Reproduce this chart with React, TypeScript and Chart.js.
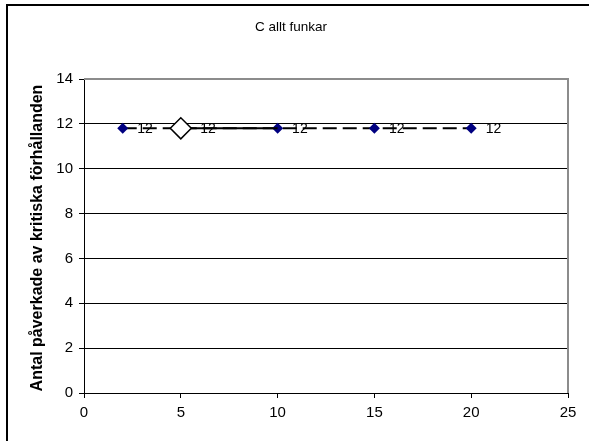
import React, { useEffect, useRef } from "react";
import { Chart, registerables } from "chart.js";

Chart.register(...registerables);

const titleText = "C allt funkar";
const yTitleText = "Antal påverkade av kritiska förhållanden";

// Dashed series (navy diamonds)
const dashedX = [2, 10, 15, 20];
const dashedY = [11.8, 11.8, 11.8, 11.8];
const dashedLabels = ["12", "12", "12", "12"];

// Solid series (white diamond)
const solidX = [5, 10];
const solidY = [11.8, 11.8];
const solidLabels = ["12", ""];

const xTicks = [0, 5, 10, 15, 20, 25];
const yTicks = [0, 2, 4, 6, 8, 10, 12, 14];

const FONT = "Arial, 'Liberation Sans', sans-serif";

export default function App() {
  const ref = useRef<HTMLCanvasElement | null>(null);

  useEffect(() => {
    if (!ref.current) return;

    const framePlugin = {
      id: "framePlugin",
      beforeDraw(chart: any) {
        const ctx = chart.ctx;
        ctx.save();
        ctx.fillStyle = "#ffffff";
        ctx.fillRect(0, 0, chart.width, chart.height);
        ctx.strokeStyle = "#000000";
        ctx.lineWidth = 2;
        ctx.strokeRect(7, 5, 700, 700);
        ctx.restore();
      },
      afterDraw(chart: any) {
        const ctx = chart.ctx;
        const a = chart.chartArea;
        ctx.save();
        ctx.strokeStyle = "#8c8c8c";
        ctx.lineWidth = 2;
        ctx.beginPath();
        ctx.moveTo(a.left, a.top);
        ctx.lineTo(a.right, a.top);
        ctx.lineTo(a.right, a.bottom);
        ctx.stroke();
        // Title
        ctx.fillStyle = "#000";
        ctx.font = `13.5px ${FONT}`;
        ctx.textAlign = "center";
        ctx.textBaseline = "middle";
        ctx.fillText(titleText, 291, 27);
        // Y title
        ctx.font = `bold 16px ${FONT}`;
        ctx.translate(38, (a.top + a.bottom) / 2 + 2);
        ctx.rotate(-Math.PI / 2);
        ctx.fillText(yTitleText, 0, 0);
        ctx.restore();
      },
    };

    const labelPlugin = {
      id: "labelPlugin",
      afterDatasetsDraw(chart: any) {
        const ctx = chart.ctx;
        ctx.save();
        ctx.fillStyle = "#000";
        ctx.font = `14px ${FONT}`;
        ctx.textAlign = "left";
        ctx.textBaseline = "middle";
        chart.data.datasets.forEach((ds: any, i: number) => {
          const meta = chart.getDatasetMeta(i);
          const labels: string[] = ds.dataLabels || [];
          meta.data.forEach((el: any, j: number) => {
            const t = labels[j];
            if (!t) return;
            const r = Array.isArray(ds.pointRadius) ? ds.pointRadius[j] : ds.pointRadius;
            ctx.fillText(t, el.x + r + 9, el.y + 1);
          });
        });
        ctx.restore();
      },
    };

    const chart = new Chart(ref.current, {
      type: "scatter",
      data: {
        datasets: [
          {
            label: "B",
            data: solidX.map((x, i) => ({ x, y: solidY[i] })),
            showLine: true,
            borderColor: "#000",
            borderWidth: 2,
            pointStyle: "rectRot",
            pointRadius: [10.5, 0],
            pointBackgroundColor: "#ffffff",
            pointBorderColor: "#000",
            pointBorderWidth: 1.5,
            order: 0,
            dataLabels: solidLabels,
          } as any,
          {
            label: "A",
            data: dashedX.map((x, i) => ({ x, y: dashedY[i] })),
            showLine: true,
            borderColor: "#000",
            borderWidth: 2,
            borderDash: [14, 6],
            pointStyle: "rectRot",
            pointRadius: 5.5,
            pointBackgroundColor: "#000080",
            pointBorderColor: "#000080",
            pointBorderWidth: 0,
            order: 1,
            dataLabels: dashedLabels,
          } as any,
        ],
      },
      options: {
        animation: false,
        responsive: false,
        events: [],
        layout: { padding: { top: 79, right: 21, left: 0, bottom: 0 } },
        plugins: {
          legend: { display: false },
          title: { display: false },
          tooltip: { enabled: false },
        },
        scales: {
          x: {
            type: "linear",
            min: 0,
            max: 25,
            afterFit: (s: any) => {
              s.height = 48;
            },
            afterBuildTicks: (s: any) => {
              s.ticks = xTicks.map((v) => ({ value: v }));
            },
            ticks: {
              color: "#000",
              font: { family: FONT, size: 15 },
              padding: 6,
              maxRotation: 0,
            },
            grid: {
              drawOnChartArea: false,
              drawTicks: true,
              tickLength: 5,
              tickColor: "#000",
            },
            border: { display: true, color: "#000", width: 1 },
          },
          y: {
            type: "linear",
            min: 0,
            max: 14,
            afterFit: (s: any) => {
              s.width = 84;
            },
            afterBuildTicks: (s: any) => {
              s.ticks = yTicks.map((v) => ({ value: v }));
            },
            ticks: {
              color: "#000",
              font: { family: FONT, size: 15 },
              padding: 6,
            },
            grid: {
              drawOnChartArea: true,
              drawTicks: true,
              tickLength: 5,
              tickColor: "#000",
              color: (c: any) => (c.tick && c.tick.value === 14 ? "rgba(0,0,0,0)" : "#000"),
              lineWidth: 1,
            },
            border: { display: true, color: "#000", width: 1 },
          },
        },
      },
      plugins: [framePlugin, labelPlugin],
    } as any);

    return () => chart.destroy();
  }, []);

  return (
    <div style={{ position: "fixed", left: 0, top: 0, width: 589, height: 441, overflow: "hidden", background: "#fff" }}>
      <canvas ref={ref} width={589} height={441} style={{ display: "block", width: 589, height: 441 }} />
    </div>
  );
}
